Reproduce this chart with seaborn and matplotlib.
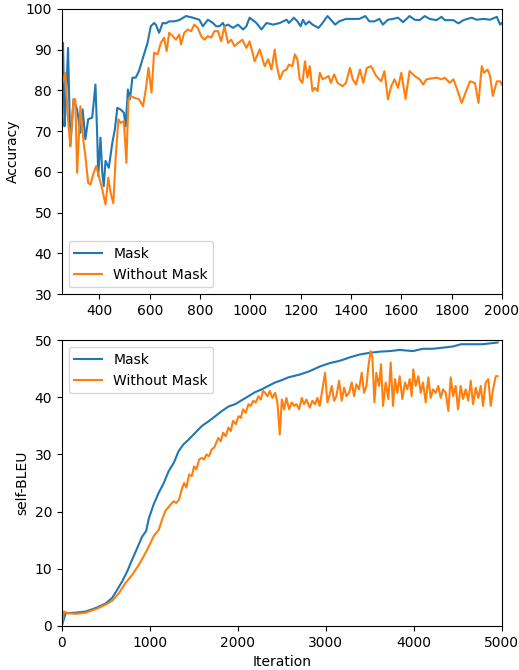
import numpy as np
import pandas as pd
import matplotlib
matplotlib.use("Agg")
import matplotlib.pyplot as plt
import seaborn as sns

# Ust grafik: dogruluk (Accuracy)
acc_iter_mask = [250, 255, 261, 267, 275, 284, 297, 311, 324, 333, 344, 355, 371, 384, 391, 395,
                 404, 411, 417, 424, 437, 451, 461, 471, 484, 497, 504, 513, 521, 531, 544, 557,
                 571, 591, 604, 617, 624, 637, 651, 664, 677, 697, 717, 744, 771, 797, 811, 831,
                 851, 864, 877, 891, 897, 911, 931, 951, 971, 984, 997, 1024, 1044, 1064, 1091,
                 1117, 1144, 1153, 1173, 1187, 1200, 1209, 1220, 1233, 1247, 1271, 1287, 1307,
                 1320, 1337, 1353, 1380, 1433, 1457, 1473, 1493, 1513, 1527, 1547, 1567, 1587,
                 1607, 1633, 1653, 1673, 1693, 1713, 1740, 1760, 1773, 1807, 1827, 1847, 1880,
                 1900, 1927, 1953, 1980, 1993, 2000]
acc_mask = [87.5, 91.6, 71.2, 77.8, 90.4, 66.3, 77.8, 75.3, 69.6, 75.3, 68.0, 72.9, 73.3, 81.4,
            68.8, 59.0, 68.4, 59.8, 56.5, 62.7, 61.0, 67.1, 70.4, 75.7, 75.3, 74.5, 71.2, 80.2,
            77.8, 83.1, 83.1, 84.7, 87.6, 91.6, 95.7, 96.5, 96.1, 94.1, 96.5, 96.4, 96.9, 96.9,
            97.2, 98.2, 97.8, 97.3, 95.7, 97.3, 96.5, 95.7, 95.7, 96.5, 95.7, 96.1, 95.3, 96.1,
            94.9, 95.7, 97.8, 96.5, 94.9, 96.5, 96.1, 96.5, 97.3, 96.5, 97.8, 96.9, 95.7, 97.3,
            96.1, 96.9, 96.1, 95.3, 96.5, 98.2, 97.3, 96.1, 96.9, 97.5, 97.5, 98.2, 96.9, 96.9,
            97.5, 96.1, 97.3, 97.5, 97.8, 96.7, 98.2, 97.3, 97.2, 98.2, 97.5, 97.2, 98.0, 97.2,
            97.2, 96.4, 97.2, 97.8, 97.3, 97.5, 97.3, 98.0, 96.1, 96.5]

acc_iter_nomask = [250, 253, 264, 275, 284, 297, 304, 311, 324, 337, 344, 355, 364, 377, 387, 397,
                   411, 424, 435, 444, 455, 464, 475, 484, 497, 507, 515, 524, 537, 557, 573, 584,
                   595, 607, 617, 631, 644, 657, 667, 677, 691, 704, 717, 724, 737, 751, 764, 777,
                   791, 804, 817, 831, 844, 857, 871, 884, 897, 911, 924, 937, 951, 968, 984, 997,
                   1017, 1037, 1057, 1071, 1084, 1097, 1104, 1117, 1131, 1144, 1153, 1167, 1177,
                   1187, 1196, 1207, 1217, 1227, 1236, 1247, 1257, 1267, 1276, 1287, 1300, 1311,
                   1320, 1333, 1347, 1367, 1380, 1396, 1407, 1420, 1436, 1449, 1463, 1480, 1500,
                   1520, 1533, 1547, 1560, 1573, 1587, 1600, 1617, 1633, 1653, 1673, 1687, 1700,
                   1720, 1740, 1760, 1773, 1793, 1807, 1820, 1840, 1853, 1873, 1893, 1907, 1920,
                   1929, 1943, 1953, 1964, 1980, 1993, 2000]
acc_nomask = [83.5, 81.8, 84.3, 72.9, 66.3, 77.8, 77.8, 59.8, 76.1, 67.1, 63.9, 57.3, 56.9, 59.8,
              61.4, 59.0, 55.7, 52.0, 58.6, 54.9, 52.3, 63.1, 72.9, 72.0, 72.4, 62.2, 77.8, 78.6,
              78.2, 77.8, 76.1, 80.2, 85.5, 79.4, 89.2, 88.8, 91.6, 92.9, 89.6, 94.1, 93.3, 92.4,
              93.7, 91.2, 94.1, 94.9, 94.5, 96.1, 95.3, 93.3, 92.4, 93.3, 92.9, 94.5, 94.5, 92.0,
              95.7, 91.6, 92.4, 90.8, 91.6, 92.4, 90.4, 92.0, 87.1, 90.0, 85.9, 87.6, 85.1, 90.0,
              86.3, 82.7, 84.7, 85.1, 86.3, 85.9, 88.8, 87.6, 82.7, 81.8, 87.1, 83.1, 85.9, 79.8,
              80.6, 79.8, 84.3, 82.7, 83.1, 83.5, 81.8, 83.9, 81.8, 81.0, 81.8, 85.5, 82.7, 81.4,
              85.1, 81.8, 85.5, 85.9, 83.5, 82.2, 84.7, 77.8, 81.0, 82.7, 80.6, 84.3, 77.9, 84.7,
              83.5, 82.7, 81.4, 82.7, 82.9, 83.1, 82.7, 83.1, 81.8, 82.7, 80.6, 76.9, 79.0, 82.2,
              81.8, 76.9, 85.9, 84.3, 85.1, 83.5, 78.6, 82.2, 82.2, 81.4]

# Alt grafik: self-BLEU
bleu_iter_mask = [0, 45, 158, 272, 385, 498, 574, 630, 687, 743, 800, 857, 913, 959, 989, 1045,
                  1102, 1159, 1215, 1272, 1328, 1385, 1442, 1517, 1593, 1668, 1744, 1819, 1895,
                  1970, 2045, 2121, 2196, 2272, 2347, 2423, 2498, 2574, 2706, 2819, 2932, 3045,
                  3159, 3272, 3385, 3498, 3611, 3725, 3838, 3989, 4102, 4215, 4328, 4442, 4536,
                  4668, 4781, 4894, 4951]
bleu_mask = [0.0, 2.2, 2.3, 2.5, 3.1, 3.9, 4.9, 6.3, 7.8, 9.5, 11.6, 13.6, 15.6, 16.6, 18.8, 21.3,
             23.3, 25.0, 27.1, 28.5, 30.6, 31.8, 32.6, 33.8, 35.0, 35.8, 36.7, 37.6, 38.4, 38.8,
             39.5, 40.2, 40.9, 41.4, 42.0, 42.6, 43.0, 43.5, 44.0, 44.6, 45.4, 46.0, 46.4, 47.0,
             47.5, 47.8, 48.0, 48.1, 48.3, 48.1, 48.5, 48.5, 48.7, 48.9, 49.3, 49.3, 49.3, 49.5,
             49.6]

bleu_iter_nomask = [0, 26, 64, 158, 272, 385, 498, 574, 649, 725, 800, 876, 932, 989, 1045, 1102,
                    1140, 1177, 1234, 1272, 1300,
                    1333, 1363, 1390, 1416, 1447, 1477, 1503, 1530, 1560, 1590, 1617, 1644, 1674,
                    1704, 1731, 1757, 1780, 1806, 1833, 1863, 1893, 1920, 1946, 1977, 2007, 2034,
                    2060, 2090, 2121, 2147, 2174, 2204, 2234, 2261, 2287, 2310, 2337, 2363, 2393,
                    2424, 2450, 2477, 2500, 2526, 2552, 2583, 2613, 2640, 2666, 2696, 2727, 2753,
                    2780,
                    2817, 2847, 2878, 2904, 2931, 2961, 2991, 3018, 3044, 3067, 3094, 3120, 3150,
                    3181, 3207, 3234, 3264, 3294, 3321, 3347, 3377, 3408, 3434, 3461, 3484, 3510,
                    3529, 3552, 3574, 3605, 3627, 3650, 3680, 3711,
                    3737, 3763, 3786, 3813, 3839, 3869, 3900, 3926, 3953, 3975, 3994, 4021, 4051,
                    4078, 4104, 4135, 4165, 4191, 4218, 4248, 4278, 4305, 4331, 4362, 4392, 4419,
                    4445, 4475, 4502, 4532, 4559, 4589, 4619, 4646, 4672, 4703, 4733, 4760, 4786,
                    4816, 4846, 4873, 4900, 4930, 4951]
bleu_nomask = [0.0, 2.5, 2.2, 2.1, 2.3, 2.9, 3.7, 4.4, 5.7, 7.5, 8.9, 10.7, 12.2, 13.9, 15.7, 16.8,
               18.6, 20.1, 21.2, 21.8, 21.5,
               22.1, 23.9, 25.0, 24.2, 26.5, 26.2, 27.9, 27.4, 29.1, 29.4, 29.1, 30.0, 29.7,
               30.9, 31.2, 32.1, 32.9, 32.3, 33.8, 33.2, 34.7, 34.1, 35.9, 35.3, 36.7, 36.4,
               37.9, 37.3, 38.8, 38.5, 39.4, 39.1, 40.2, 39.6, 41.1, 40.8, 40.2, 41.1, 39.9,
               40.8, 39.1, 33.5, 39.6, 37.9, 39.9, 37.9, 39.1, 38.5, 38.8, 37.9, 39.9, 38.8,
               39.6,
               38.2, 39.4, 38.8, 39.9, 38.5, 41.4, 44.3, 39.1, 40.5, 42.0, 39.4, 40.2, 42.9,
               39.4, 41.7, 40.2, 40.8, 42.6, 40.2, 42.3, 41.4, 44.3, 40.8, 42.0, 45.5, 48.1,
               47.0, 39.1, 44.3, 42.0, 45.8, 38.5, 42.6, 39.7,
               46.1, 38.5, 43.2, 40.8, 43.7, 39.7, 42.6, 41.4, 43.2, 40.2, 44.9, 42.0, 43.7,
               40.8, 42.6, 39.1, 43.5, 39.9, 41.4, 40.8, 42.0, 39.9, 41.4, 40.8, 37.6, 43.5,
               40.2, 42.0, 37.9, 42.0, 39.7, 41.4, 39.4, 42.9, 38.8, 41.7, 39.9, 42.0, 38.5,
               42.6, 43.2, 38.5, 41.4, 43.7, 43.7]

renk_mask = "#1f77b4"
renk_nomask = "#ff7f0e"

fig, (ax1, ax2) = plt.subplots(2, 1, figsize=(5.19, 6.70), dpi=100)
fig.subplots_adjust(left=0.119, right=0.967, top=0.987, bottom=0.066, hspace=0.161)

sns.lineplot(x=acc_iter_mask, y=acc_mask, ax=ax1, color=renk_mask, label="Mask", linewidth=1.5)
sns.lineplot(x=acc_iter_nomask, y=acc_nomask, ax=ax1, color=renk_nomask, label="Without Mask", linewidth=1.5)
ax1.set_xlim(250, 2000)
ax1.set_ylim(30, 100)
ax1.set_xticks(range(400, 2001, 200))
ax1.set_ylabel("Accuracy")
ax1.legend(loc="lower left")

sns.lineplot(x=bleu_iter_mask, y=bleu_mask, ax=ax2, color=renk_mask, label="Mask", linewidth=1.5)
sns.lineplot(x=bleu_iter_nomask, y=bleu_nomask, ax=ax2, color=renk_nomask, label="Without Mask", linewidth=1.5)
ax2.set_xlim(0, 5000)
ax2.set_ylim(0, 50)
ax2.set_xlabel("Iteration")
ax2.set_ylabel("self-BLEU")
ax2.legend(loc="upper left")

plt.savefig("out.png", dpi=100)
plt.close()
